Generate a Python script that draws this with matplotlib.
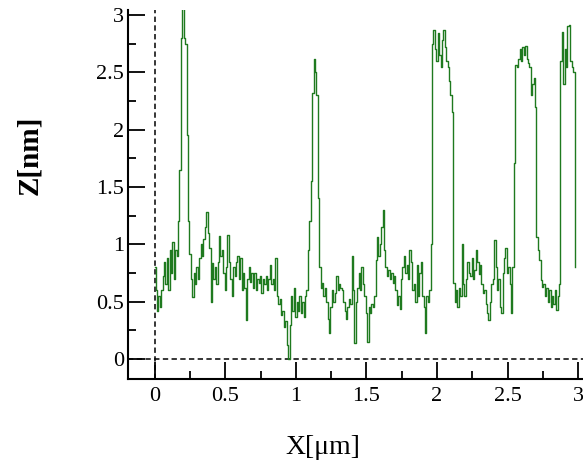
import matplotlib
matplotlib.use('Agg')
import matplotlib.pyplot as plt
import numpy as np

# profile, one value every 0.01 um from 0 to 2.98
x_step = 0.01
z_nm = [
    0.8, 0.6, 0.42, 0.55, 0.45, 0.6, 0.72, 0.85, 0.65, 0.88,
    0.6, 0.95, 0.75, 1.02, 0.7, 0.95, 0.9, 1.2, 1.65, 2.8,
    3.2, 2.8, 2.75, 1.95, 1.2, 0.92, 0.7, 0.54, 0.75, 0.65,
    0.8, 0.7, 0.88, 1.0, 0.9, 1.05, 1.15, 1.28, 1.1, 0.97,
    0.5, 0.84, 0.7, 0.8, 0.65, 0.85, 1.07, 0.9, 0.95, 0.75,
    0.6, 0.8, 1.08, 0.85, 0.7, 0.55, 0.8, 0.72, 0.85, 0.9,
    0.7, 0.88, 0.6, 0.75, 0.62, 0.34, 0.7, 0.8, 0.67, 0.75,
    0.62, 0.75, 0.6, 0.7, 0.66, 0.72, 0.58, 0.7, 0.65, 0.72,
    0.6, 0.7, 0.82, 0.65, 0.7, 0.6, 0.88, 0.55, 0.48, 0.52,
    0.38, 0.42, 0.28, 0.33, 0.12, 0.0, 0.3, 0.55, 0.42, 0.62,
    0.37, 0.5, 0.42, 0.55, 0.4, 0.5, 0.37, 0.55, 0.6, 0.95,
    1.2, 1.55, 2.32, 2.62, 2.5, 2.3, 1.4, 0.8, 0.62, 0.66,
    0.55, 0.62, 0.5, 0.35, 0.23, 0.45, 0.6, 0.5, 0.58, 0.72,
    0.6, 0.65, 0.62, 0.6, 0.5, 0.42, 0.35, 0.45, 0.52, 0.48,
    0.9, 0.6, 0.14, 0.5, 0.62, 0.75, 0.6, 0.8, 0.65, 0.55,
    0.4, 0.15, 0.45, 0.4, 0.48, 0.45, 0.55, 0.86, 1.06, 0.9,
    1.0, 1.15, 1.3, 0.95, 0.8, 0.72, 0.78, 0.7, 0.75, 0.66,
    0.72, 0.6, 0.47, 0.55, 0.44, 0.7, 0.8, 0.9, 0.75, 0.82,
    0.7, 0.95, 0.85, 0.6, 0.65, 0.5, 0.82, 0.55, 0.75, 0.85,
    0.55, 0.45, 0.23, 0.55, 0.5, 0.6, 1.0, 2.75, 2.87, 2.7,
    2.6, 2.84, 2.65, 2.55, 2.78, 2.87, 2.72, 2.6, 2.55, 2.42,
    2.3, 2.15, 0.66, 0.5, 0.6, 0.45, 0.62, 0.55, 1.0, 0.65,
    0.55, 0.7, 0.85, 0.75, 0.72, 0.88, 0.7, 0.78, 0.95, 0.85,
    0.74, 0.82, 0.65, 0.58, 0.6, 0.48, 0.4, 0.34, 0.5, 0.65,
    0.7, 1.04, 0.8, 0.6, 0.7, 0.45, 0.4, 0.75, 0.88, 0.97,
    0.75, 0.8, 0.65, 0.4, 0.8, 1.71, 2.56, 2.55, 2.62, 2.7,
    2.6, 2.72, 2.65, 2.73, 2.62, 2.58, 2.55, 2.3, 2.4, 2.45,
    2.2, 1.06, 0.95, 0.86, 0.69, 0.63, 0.65, 0.55, 0.62, 0.5,
    0.6, 0.45, 0.55, 0.48, 0.6, 0.43, 0.55, 0.65, 2.6, 2.85,
    2.4, 2.7, 2.55, 2.9, 2.91, 2.6, 2.55, 2.5, 0.8,
]
x_um = np.arange(len(z_nm)) * x_step

x_ticks = [0, 0.5, 1, 1.5, 2, 2.5, 3]
x_labels = ['0', '0.5', '1', '1.5', '2', '2.5', '3']
y_ticks = [0, 0.5, 1, 1.5, 2, 2.5, 3]
y_labels = ['0', '0.5', '1', '1.5', '2', '2.5', '3']

plt.rcParams['font.family'] = ['Liberation Serif', 'DejaVu Serif']

W, H = 583, 465
fig = plt.figure(figsize=(W / 100, H / 100), dpi=100)
ax = fig.add_axes([128 / W, 1 - 379 / H, (W - 128) / W, (379 - 10) / H])

ax.axvline(0, color='black', lw=1.1, dashes=(3.5, 2.2), zorder=1)
ax.axhline(0, color='black', lw=1.1, dashes=(3.5, 2.2), zorder=1)
ax.plot(x_um, z_nm, color='#1f7a1f', lw=1.0, drawstyle='steps-mid', zorder=2)

ax.set_xlim(-0.19, 3.035)
ax.set_ylim(-0.174, 3.043)
ax.set_xticks(x_ticks)
ax.set_xticklabels(x_labels)
ax.set_yticks(y_ticks)
ax.set_yticklabels(y_labels)
ax.set_xticks(np.arange(0.25, 3, 0.5), minor=True)
ax.set_yticks(np.arange(0.25, 3, 0.5), minor=True)
ax.tick_params(which='major', direction='in', length=12, width=1.3, labelsize=16)
ax.tick_params(which='minor', direction='in', length=5.5, width=1.3)
ax.tick_params(axis='x', pad=6)
ax.tick_params(axis='y', pad=3)

for side in ['top', 'right']:
    ax.spines[side].set_visible(False)
for side in ['left', 'bottom']:
    ax.spines[side].set_linewidth(1.5)

fig.text(30 / W, 1 - 155 / H, 'Z[nm]', rotation=90, fontsize=21, fontweight='bold',
         ha='center', va='center')
fig.text(323 / W, 1 - 447 / H, 'X[\u03bcm]', fontsize=20, ha='center', va='center')

fig.savefig('out.png', dpi=100)
